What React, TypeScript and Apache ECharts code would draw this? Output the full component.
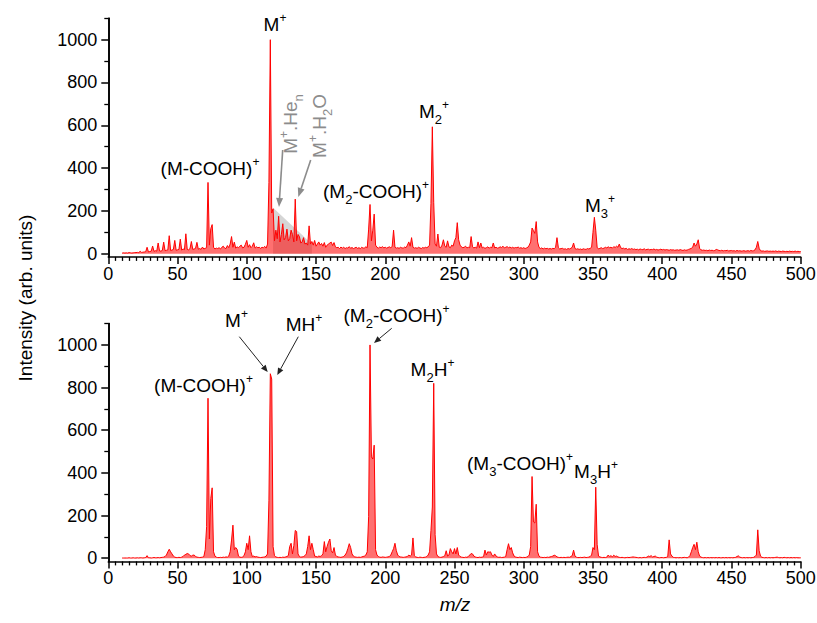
import React, { useEffect, useRef } from "react";
import * as echarts from "echarts";

// m/z of the first value in each intensity array (one value per integer m/z)
const MZ_START = 10;

// Upper spectrum (intensity, arb. units), m/z 10..500
const topIntensity: number[] = [
  3, 4, 3, 4, 3, 5, 4, 3, 4, 5, // 10
  5, 6, 5, 11, 6, 7, 8, 9, 30, 8, // 20
  10, 12, 36, 11, 14, 12, 50, 13, 12, 15, // 30
  54, 14, 16, 18, 84, 15, 17, 20, 62, 16, // 40
  18, 20, 68, 17, 22, 19, 93, 20, 18, 24, // 50
  57, 20, 22, 25, 53, 21, 24, 20, 31, 22, // 60
  25, 28, 333, 40, 117, 136, 30, 22, 26, 24, // 70
  28, 22, 30, 35, 26, 24, 38, 28, 45, 80, // 80
  30, 54, 26, 32, 28, 35, 40, 27, 30, 44, // 90
  62, 30, 42, 28, 35, 51, 26, 32, 28, 30, // 100
  25, 30, 28, 34, 26, 45, 333, 1000, 190, 210, // 110
  60, 110, 70, 175, 55, 90, 140, 65, 75, 115, // 120
  60, 70, 110, 90, 55, 255, 60, 90, 80, 50, // 130
  55, 75, 45, 50, 40, 130, 45, 57, 40, 62, // 140
  35, 45, 55, 40, 48, 35, 52, 30, 40, 45, // 150
  50, 54, 38, 52, 32, 28, 30, 24, 31, 26, // 160
  30, 24, 28, 26, 33, 25, 29, 24, 27, 30, // 170
  25, 28, 24, 30, 26, 27, 32, 28, 115, 230, // 180
  60, 110, 185, 40, 30, 26, 31, 28, 33, 27, // 190
  30, 26, 29, 32, 27, 35, 110, 30, 26, 28, // 200
  25, 30, 27, 26, 31, 28, 40, 55, 35, 75, // 210
  30, 26, 28, 25, 30, 27, 24, 29, 26, 30, // 220
  28, 32, 40, 235, 593, 238, 45, 35, 92, 30, // 230
  28, 40, 65, 35, 30, 60, 32, 28, 40, 35, // 240
  60, 75, 145, 65, 40, 32, 28, 30, 35, 27, // 250
  30, 28, 80, 32, 27, 30, 26, 55, 28, 50, // 260
  27, 30, 25, 28, 32, 26, 30, 28, 50, 27, // 270
  30, 26, 28, 32, 29, 35, 27, 30, 33, 28, // 280
  31, 27, 30, 26, 29, 28, 31, 26, 28, 25, // 290
  28, 24, 27, 30, 40, 55, 120, 108, 95, 150, // 300
  55, 30, 24, 27, 22, 26, 23, 25, 22, 24, // 310
  22, 25, 23, 30, 75, 28, 22, 24, 25, 21, // 320
  23, 20, 24, 22, 25, 30, 50, 24, 21, 23, // 330
  20, 22, 19, 23, 21, 20, 24, 22, 25, 30, // 340
  100, 170, 110, 30, 22, 25, 28, 24, 26, 30, // 350
  27, 32, 28, 30, 26, 33, 29, 35, 30, 45, // 360
  28, 24, 26, 22, 25, 20, 23, 21, 24, 20, // 370
  22, 19, 21, 18, 22, 20, 19, 23, 18, 20, // 380
  21, 18, 20, 19, 22, 18, 20, 17, 19, 21, // 390
  18, 20, 17, 19, 18, 16, 19, 17, 18, 16, // 400
  17, 18, 16, 19, 17, 15, 18, 16, 17, 20, // 410
  22, 25, 30, 50, 35, 45, 65, 25, 18, 16, // 420
  17, 15, 16, 14, 17, 15, 16, 14, 15, 20, // 430
  18, 15, 14, 16, 13, 15, 14, 16, 13, 14, // 440
  15, 13, 14, 12, 15, 13, 14, 12, 13, 14, // 450
  12, 13, 14, 12, 15, 13, 14, 18, 30, 57, // 460
  25, 14, 12, 13, 11, 12, 13, 11, 12, 11, // 470
  12, 11, 13, 10, 12, 11, 10, 12, 11, 10, // 480
  11, 10, 12, 10, 11, 10, 12, 10, 11, 10, // 490
  10, // 500
];

// Lower spectrum (intensity, arb. units), m/z 10..500
const bottomIntensity: number[] = [
  1, 1, 1, 1, 1, 2, 1, 1, 2, 1, // 10
  1, 2, 1, 2, 2, 1, 2, 3, 12, 2, // 20
  2, 1, 2, 3, 2, 2, 3, 2, 3, 4, // 30
  5, 8, 15, 30, 42, 30, 20, 10, 5, 3, // 40
  3, 4, 3, 5, 8, 15, 18, 22, 20, 12, // 50
  10, 14, 15, 8, 5, 4, 3, 4, 5, 8, // 60
  40, 148, 750, 90, 280, 330, 30, 10, 5, 3, // 70
  3, 4, 3, 5, 4, 6, 5, 10, 30, 85, // 80
  155, 40, 50, 42, 10, 5, 4, 6, 12, 30, // 90
  70, 40, 105, 30, 8, 10, 6, 8, 5, 4, // 100
  3, 4, 5, 6, 10, 20, 272, 865, 840, 55, // 110
  12, 6, 4, 3, 4, 3, 5, 4, 6, 8, // 120
  12, 55, 70, 20, 60, 130, 125, 20, 8, 5, // 130
  6, 8, 12, 20, 55, 105, 40, 70, 40, 10, // 140
  8, 6, 10, 8, 12, 20, 78, 30, 55, 75, // 150
  90, 35, 25, 50, 15, 8, 6, 5, 4, 6, // 160
  8, 15, 25, 45, 68, 50, 20, 10, 6, 5, // 170
  4, 5, 4, 6, 8, 10, 15, 30, 195, 1000, // 180
  475, 465, 530, 40, 15, 8, 5, 4, 6, 5, // 190
  4, 5, 6, 8, 15, 30, 45, 70, 35, 15, // 200
  8, 6, 5, 4, 5, 6, 8, 15, 10, 15, // 210
  95, 12, 6, 4, 3, 5, 4, 3, 4, 5, // 220
  8, 15, 30, 130, 240, 820, 110, 20, 8, 5, // 230
  4, 5, 8, 12, 35, 10, 15, 45, 30, 20, // 240
  45, 20, 50, 15, 8, 5, 4, 3, 5, 4, // 250
  8, 15, 22, 20, 10, 6, 4, 3, 5, 4, // 260
  5, 8, 38, 15, 30, 28, 30, 15, 8, 20, // 270
  10, 6, 4, 5, 3, 4, 5, 8, 40, 68, // 280
  40, 50, 25, 10, 6, 4, 3, 5, 4, 3, // 290
  4, 3, 5, 8, 15, 55, 383, 170, 165, 253, // 300
  30, 10, 5, 4, 3, 4, 3, 5, 4, 6, // 310
  8, 10, 14, 12, 6, 4, 3, 4, 3, 4, // 320
  3, 4, 5, 4, 8, 12, 38, 10, 5, 3, // 330
  3, 4, 3, 4, 5, 3, 4, 5, 8, 15, // 340
  50, 40, 333, 65, 10, 6, 4, 3, 4, 3, // 350
  5, 15, 8, 12, 6, 14, 8, 10, 6, 4, // 360
  3, 4, 3, 2, 3, 4, 3, 4, 5, 6, // 370
  5, 4, 3, 2, 3, 2, 3, 4, 3, 5, // 380
  10, 8, 12, 6, 8, 10, 5, 3, 2, 3, // 390
  3, 2, 3, 4, 8, 86, 20, 10, 4, 3, // 400
  2, 3, 2, 3, 2, 3, 4, 3, 2, 5, // 410
  12, 30, 50, 65, 40, 75, 30, 10, 5, 3, // 420
  2, 3, 2, 3, 2, 3, 2, 3, 2, 3, // 430
  2, 3, 2, 2, 3, 2, 3, 2, 3, 2, // 440
  3, 2, 3, 4, 8, 11, 5, 3, 2, 3, // 450
  2, 3, 2, 3, 2, 3, 4, 8, 15, 133, // 460
  35, 10, 4, 3, 2, 3, 2, 3, 2, 3, // 470
  2, 3, 4, 5, 3, 2, 3, 2, 4, 3, // 480
  2, 3, 2, 3, 2, 3, 2, 3, 2, 2, // 490
  2, // 500
];

// Grey shaded M+.He_n envelope (m/z, intensity)
const heEnvelope: number[][] = [
  [119, 215],
  [147, 45],
];

const X_MIN = 0;
const X_MAX = 500;
const X_INTERVAL = 50;
const Y_MIN = -15;
const Y_MAX = 1100;
const Y_MAJOR = [0, 200, 400, 600, 800, 1000];
const Y_MINOR = [100, 300, 500, 700, 900, 1100];

const FONT = "'Liberation Sans', Arial, sans-serif";
const RED = "#ff0000";
const GREY = "#8c8c8c";

const toXY = (values: number[]) => values.map((v, i) => [MZ_START + i, v]);

function arrow(x1: number, y1: number, x2: number, y2: number, color: string, w: number, hl: number, hw: number) {
  const dx = x2 - x1;
  const dy = y2 - y1;
  const L = Math.hypot(dx, dy);
  const ux = dx / L;
  const uy = dy / L;
  const bx = x2 - ux * hl;
  const by = y2 - uy * hl;
  const px = -uy;
  const py = ux;
  return [
    { type: "line", z: 100, shape: { x1, y1, x2: bx, y2: by }, style: { stroke: color, lineWidth: w } },
    {
      type: "polygon",
      z: 100,
      shape: { points: [[x2, y2], [bx + px * hw, by + py * hw], [bx - px * hw, by - py * hw]] },
      style: { fill: color },
    },
  ];
}

function richStyles(color: string, size: number) {
  return {
    n: { fontSize: size, fontFamily: FONT, lineHeight: 30, fill: color },
    sup: { fontSize: 12, fontFamily: FONT, verticalAlign: "top", padding: [3, 0, 0, 0], fill: color },
    sub: { fontSize: 13, fontFamily: FONT, verticalAlign: "bottom", fill: color },
  };
}

function label(text: string, x: number, y: number, color = "#000", rotation = 0) {
  return {
    type: "text",
    z: 100,
    x,
    y,
    rotation,
    style: {
      text,
      fill: color,
      font: `19px ${FONT}`,
      textAlign: "center",
      textVerticalAlign: "middle",
      verticalAlign: "middle",
      rich: richStyles(color, 19),
    },
  };
}

const plainNumber = (v: number) => String(v);

function makeXAxis(gridIndex: number) {
  return {
    type: "value",
    gridIndex,
    position: "bottom",
    min: X_MIN,
    max: X_MAX,
    interval: X_INTERVAL,
    axisLine: { show: true, onZero: false, lineStyle: { color: "#000", width: 1.6 } },
    axisTick: { show: true, inside: false, length: 7, lineStyle: { color: "#000", width: 1.5 } },
    minorTick: { show: true, splitNumber: 10, length: 4, lineStyle: { color: "#000", width: 1.3 } },
    splitLine: { show: false },
    minorSplitLine: { show: false },
    axisLabel: { fontFamily: FONT, fontSize: 18, color: "#000", margin: 8, formatter: plainNumber },
  };
}

function makeYAxes(gridIndex: number) {
  return [
    {
      type: "value",
      gridIndex,
      position: "left",
      offset: 0,
      min: Y_MIN,
      max: Y_MAX,
      axisLine: { show: true, onZero: false, lineStyle: { color: "#000", width: 1.6 } },
      axisTick: { show: true, inside: false, length: 7, customValues: Y_MAJOR, lineStyle: { color: "#000", width: 1.5 } },
      axisLabel: { fontFamily: FONT, fontSize: 18, color: "#000", margin: 11, customValues: Y_MAJOR, formatter: plainNumber },
      splitLine: { show: false },
    },
    {
      type: "value",
      gridIndex,
      position: "left",
      offset: 0,
      min: Y_MIN,
      max: Y_MAX,
      axisLine: { show: true, onZero: false, lineStyle: { color: "#000", width: 1.6 } },
      axisTick: { show: true, inside: false, length: 4, customValues: Y_MINOR, lineStyle: { color: "#000", width: 1.3 } },
      axisLabel: { show: false },
      splitLine: { show: false },
    },
  ];
}

export default function App() {
  const ref = useRef<HTMLDivElement>(null);

  useEffect(() => {
    if (!ref.current) return;
    const chart = echarts.init(ref.current, undefined, { renderer: "svg" });

    const spectrumSeries = (data: number[][], xi: number, yi: number) => ({
      type: "line",
      xAxisIndex: xi,
      yAxisIndex: yi,
      data,
      showSymbol: false,
      symbol: "none",
      z: 3,
      lineStyle: { color: RED, width: 1 },
      areaStyle: { color: "rgba(255,0,0,0.8)" },
      silent: true,
    });

    const graphics: any[] = [
      // axis titles
      {
        type: "text",
        z: 100,
        x: 25,
        y: 298,
        rotation: Math.PI / 2,
        style: { text: "Intensity (arb. units)", fill: "#000", font: `19px ${FONT}`, textAlign: "center", textVerticalAlign: "middle", verticalAlign: "middle" },
      },
      {
        type: "text",
        z: 100,
        x: 455,
        y: 604,
        style: { text: "m/z", fill: "#000", font: `italic 19px ${FONT}`, textAlign: "center", textVerticalAlign: "middle", verticalAlign: "middle" },
      },
      // top panel labels
      label("{n|M}{sup|+}", 275, 24),
      label("{n|(M-COOH)}{sup|+}", 210, 168),
      label("{n|(M}{sub|2}{n|-COOH)}{sup|+}", 376, 191),
      label("{n|M}{sub|2}{sup|+}", 434, 111),
      label("{n|M}{sub|3}{sup|+}", 600, 205),
      label("{n|M}{sup|+}{n|.He}{sub|n}", 290, 124, GREY, Math.PI / 2),
      label("{n|M}{sup|+}{n|.H}{sub|2}{n|O}", 319, 126, GREY, Math.PI / 2),
      ...arrow(282.7, 150, 279, 207, GREY, 1.6, 9, 3.5),
      ...arrow(310.7, 160, 298.3, 197, GREY, 1.6, 9, 3.5),
      // bottom panel labels
      label("{n|M}{sup|+}", 236.5, 320),
      label("{n|MH}{sup|+}", 304, 324),
      label("{n|(M-COOH)}{sup|+}", 203.5, 385),
      label("{n|(M}{sub|2}{n|-COOH)}{sup|+}", 396.5, 315),
      label("{n|M}{sub|2}{n|H}{sup|+}", 432.5, 369),
      label("{n|(M}{sub|3}{n|-COOH)}{sup|+}", 520, 463),
      label("{n|M}{sub|3}{n|H}{sup|+}", 596, 471),
      ...arrow(239.3, 336.7, 267.7, 372, "#222", 1, 7, 3),
      ...arrow(298.3, 336.7, 277.3, 375, "#222", 1, 7, 3),
      ...arrow(391.7, 328.3, 374, 343, "#222", 1, 7, 3),
    ];

    const option: any = {
      animation: false,
      backgroundColor: "#fff",
      grid: [
        { left: 108.3, right: 16.3, top: 18.3, height: 238.6, outerBoundsMode: "none", containLabel: false },
        { left: 108.3, right: 16.3, top: 323.6, height: 237.8, outerBoundsMode: "none", containLabel: false },
      ],
      xAxis: [makeXAxis(0), makeXAxis(1)],
      yAxis: [...makeYAxes(0), ...makeYAxes(1)],
      series: [
        {
          type: "line",
          xAxisIndex: 0,
          yAxisIndex: 0,
          data: heEnvelope,
          showSymbol: false,
          symbol: "none",
          z: 1,
          lineStyle: { width: 0, color: "rgba(0,0,0,0)" },
          areaStyle: { color: "rgba(170,170,170,0.7)" },
          silent: true,
        },
        spectrumSeries(toXY(topIntensity), 0, 0),
        spectrumSeries(toXY(bottomIntensity), 1, 2),
      ],
      graphic: graphics,
    };

    chart.setOption(option);
    return () => chart.dispose();
  }, []);

  return (
    <div
      ref={ref}
      style={{ position: "absolute", left: 0, top: 0, width: 817, height: 623, background: "#fff" }}
    />
  );
}
